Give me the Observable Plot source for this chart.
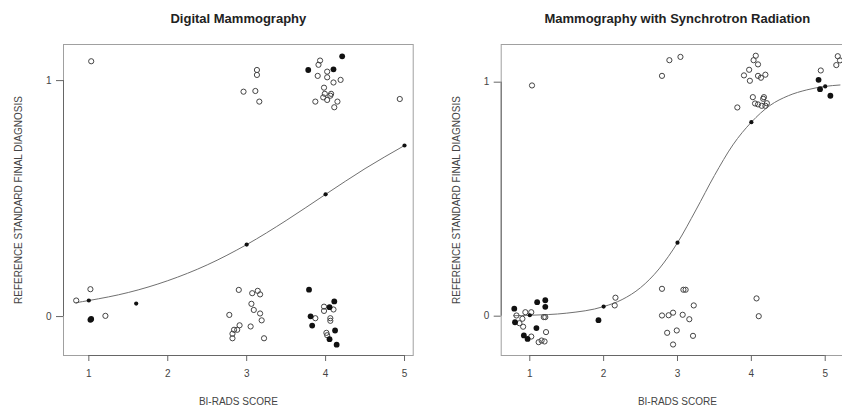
<!DOCTYPE html>
<html><head><meta charset="utf-8">
<script src="https://cdn.jsdelivr.net/npm/d3@7"></script>
<script src="https://cdn.jsdelivr.net/npm/@observablehq/plot@0.6"></script>
<style>
body{margin:0;background:#fff}
#wrap{position:relative;width:842px;height:407px;overflow:hidden;background:#fff}
#wrap svg{position:absolute;top:0}
</style></head><body><div id="wrap"></div>
<script>
const titles = ["Digital Mammography", "Mammography with Synchrotron Radiation"];
const xLabel = "BI-RADS SCORE";
const yLabel = "REFERENCE STANDARD FINAL DIAGNOSIS";
const xTicks = [1, 2, 3, 4, 5];
const yTicks = [0, 1];

// Left panel (Digital Mammography)
const leftOpen = [[1.03,1.082],[3.13,1.045],[3.13,1.024],[2.96,0.953],[3.11,0.956],[3.16,0.911],[3.93,1.085],[3.91,1.067],[4.02,1.038],[3.90,1.020],[4.02,1.014],[4.10,0.992],[4.19,1.003],[3.98,0.970],[3.99,0.944],[3.97,0.929],[4.02,0.918],[4.07,0.944],[4.06,0.936],[3.87,0.911],[4.15,0.911],[4.11,0.887],[4.94,0.922],
  [0.84,0.068],[1.02,0.116],[1.21,0.003],[2.90,0.113],[3.07,0.099],[3.14,0.109],[3.17,0.094],[3.06,0.054],[3.09,0.028],[3.17,0.013],[2.78,0.007],[3.19,-0.016],[2.91,-0.037],[3.05,-0.042],[2.88,-0.056],[2.84,-0.056],[2.82,-0.073],[2.82,-0.092],[3.22,-0.092],[3.98,0.042],[3.98,0.024],[4.10,0.030],[3.87,-0.007],[4.06,-0.007],[4.06,-0.018],[4.01,-0.069],[4.02,-0.079]];
const leftFilled = [[3.78,1.045],[4.21,1.103],[4.10,1.048],[1.02,-0.014],[1.03,-0.010],[3.79,0.114],[4.11,0.064],[4.05,0.040],[3.81,0.001],[3.83,-0.038],[4.12,-0.059],[4.05,-0.096],[4.14,-0.119]];
const leftFitted = [[1,0.068],[1.6,0.055],[3,0.305],[4,0.518],[5,0.725]];
const leftCurve = [[0.84,0.059],[1,0.068],[1.5,0.102],[2,0.152],[2.5,0.219],[3,0.305],[3.5,0.407],[4,0.518],[4.5,0.627],[5,0.725]];

// Right panel (Synchrotron)
const rightOpen = [[1.03,0.986],[2.79,1.027],[2.89,1.094],[3.04,1.108],[4.06,1.113],[4.03,1.094],[4.09,1.076],[3.97,1.053],[3.90,1.029],[3.98,1.006],[4.09,1.027],[4.13,1.019],[4.19,1.032],[4.02,0.936],[4.17,0.936],[4.16,0.929],[4.05,0.909],[4.09,0.905],[4.14,0.899],[4.19,0.899],[4.21,0.910],[3.81,0.892],[4.94,1.05],[5.17,1.111],[5.20,1.093],[5.15,1.073],
  [2.79,0.117],[3.08,0.113],[3.11,0.113],[3.22,0.046],[2.94,0.015],[2.88,0.004],[2.79,0.003],[3.07,0.006],[3.16,-0.013],[2.86,-0.071],[2.99,-0.061],[3.21,-0.084],[2.94,-0.121],[4.07,0.076],[4.10,0.0],[2.16,0.079],[2.15,0.046],
  [0.82,0.003],[0.94,0.017],[1.02,0.017],[0.90,-0.011],[0.86,-0.030],[0.91,-0.045],[1.21,-0.004],[1.19,-0.004],[1.22,-0.068],[1.02,-0.087],[1.12,-0.111],[1.16,-0.104],[1.20,-0.108]];
const rightFilled = [[4.91,1.010],[4.93,0.970],[5.07,0.942],[1.93,-0.017],[1.10,0.060],[1.21,0.068],[1.21,0.040],[0.79,0.032],[0.80,-0.026],[1.09,-0.051],[0.92,-0.082],[0.97,-0.097]];
const rightFitted = [[1,0.004],[2,0.041],[3,0.314],[4,0.829],[5,0.982]];
const rightCurve = [[0.78,0.002],[1,0.004],[1.5,0.013],[2,0.041],[2.25,0.071],[2.5,0.122],[2.75,0.202],[3,0.314],[3.25,0.454],[3.5,0.601],[3.75,0.732],[4,0.829],[4.25,0.900],[4.5,0.942],[4.75,0.967],[5,0.982],[5.2,0.988]];

function panel({title, open, filled, fitted, curve, xDomain, yDomain, width, ml, mr}) {
  return Plot.plot({
    width, height: 407,
    marginLeft: ml, marginRight: mr, marginTop: 44, marginBottom: 52,
    style: {fontFamily: "'Liberation Sans', Arial, sans-serif", fontSize: "10px", color: "#444", background: "white"},
    x: {domain: xDomain},
    y: {domain: yDomain},
    marks: [
      Plot.frame({stroke: "#a0a0a0"}),
      Plot.ruleY([yDomain[0]], {x1: xTicks[0], x2: xTicks[xTicks.length - 1], stroke: "#666"}),
      Plot.ruleX([xDomain[0]], {y1: yTicks[0], y2: yTicks[yTicks.length - 1], stroke: "#666"}),
      Plot.axisX(xTicks, {tickSize: 6, tickPadding: 8.5, stroke: "#666", fill: "#444", label: null, fontSize: 10, tickFormat: d => String(d)}),
      Plot.axisY(yTicks, {tickSize: 7, tickPadding: 5, stroke: "#666", fill: "#444", label: null, fontSize: 10, tickFormat: d => String(d)}),
      Plot.line(curve, {x: d => d[0], y: d => d[1], curve: "monotone-x", stroke: "#707070", strokeWidth: 1}),
      Plot.dot(open, {x: d => d[0], y: d => d[1], r: 2.6, stroke: "#444", fill: "none", strokeWidth: 1}),
      Plot.dot(filled, {x: d => d[0], y: d => d[1], r: 2.9, fill: "#111", stroke: "none"}),
      Plot.dot(fitted, {x: d => d[0], y: d => d[1], r: 2.1, fill: "#111", stroke: "none"}),
      Plot.text([title], {frameAnchor: "top", dy: -25.7, lineAnchor: "middle", fontWeight: "bold", fontSize: 13, fill: "#222"}),
      Plot.text([xLabel], {frameAnchor: "bottom", dy: 46.7, lineAnchor: "middle", fontSize: 10, fill: "#444"}),
      Plot.text([yLabel], {frameAnchor: "left", dx: -44.7, rotate: -90, lineAnchor: "middle", textAnchor: "middle", fontSize: 10, fill: "#444"})
    ]
  });
}

const wrap = document.getElementById("wrap");
const left = panel({title: titles[0], open: leftOpen, filled: leftFilled, fitted: leftFitted, curve: leftCurve,
  xDomain: [0.679, 5.11], yDomain: [-0.165, 1.153], width: 421, ml: 63, mr: 8.3});
left.style.left = "0px";
wrap.appendChild(left);
const right = panel({title: titles[1], open: rightOpen, filled: rightFilled, fitted: rightFitted, curve: rightCurve,
  xDomain: [0.613, 5.383], yDomain: [-0.168, 1.161], width: 440, ml: 79.7, mr: 8});
right.style.left = "421px";
wrap.appendChild(right);
</script></body></html>
